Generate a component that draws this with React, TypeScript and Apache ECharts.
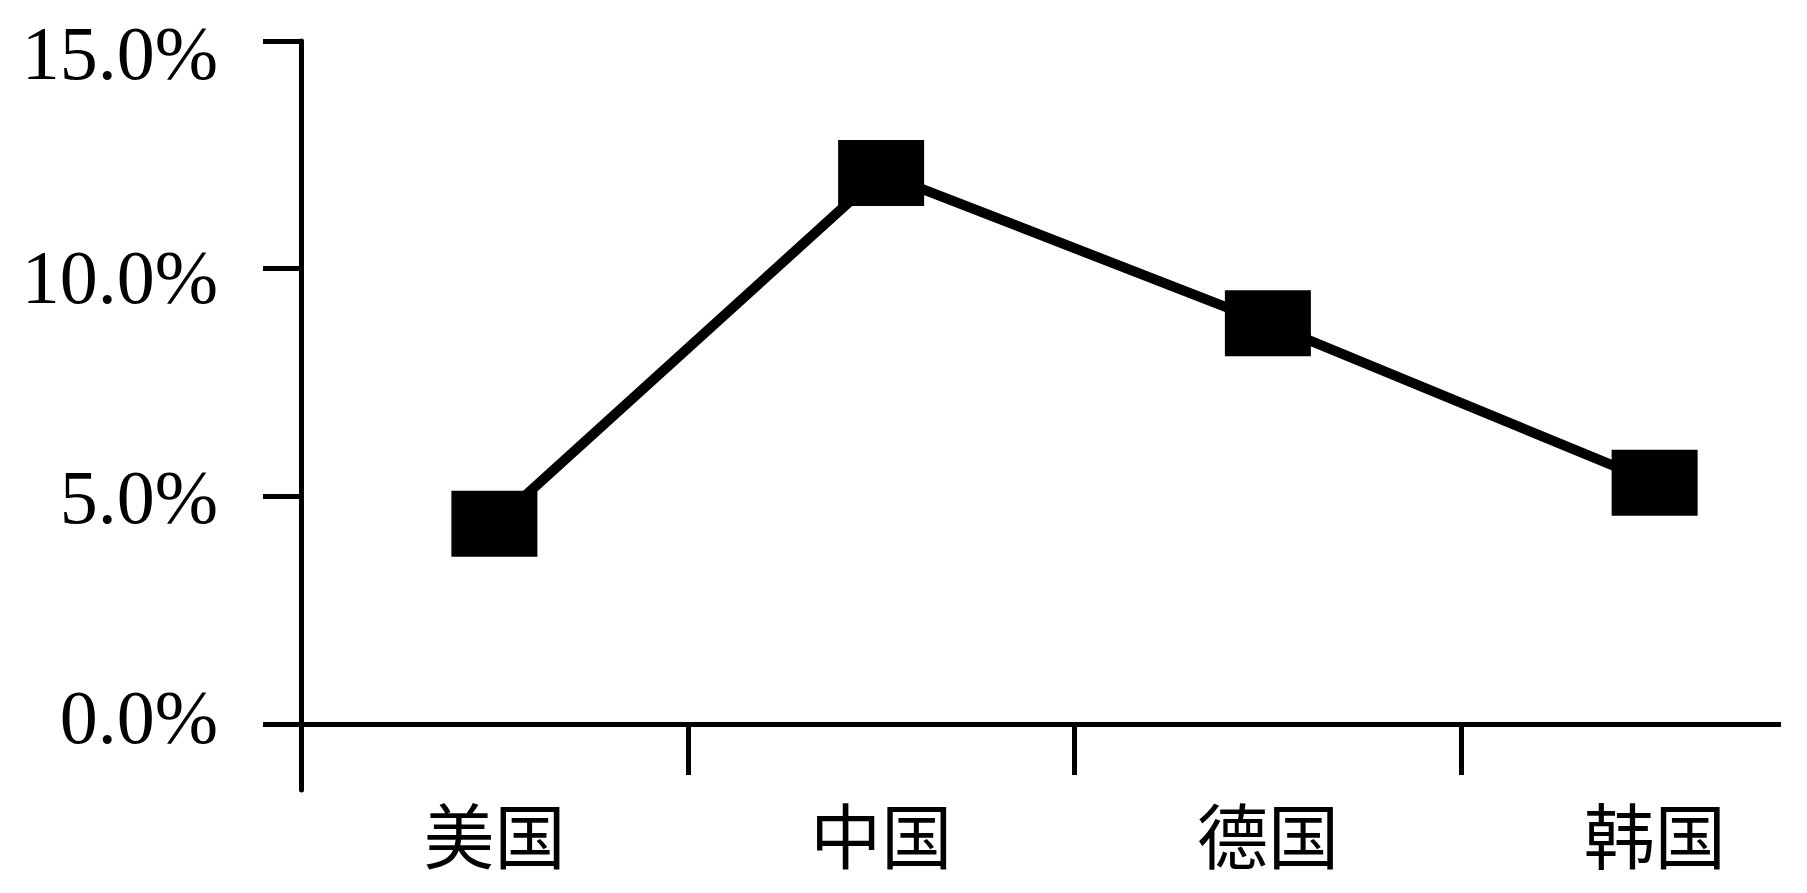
import React, { useEffect, useRef } from 'react';
import * as echarts from 'echarts';

const countries = ['美国', '中国', '德国', '韩国'];
const shares = [4.4, 12.1, 8.8, 5.3];
const yTicks = [0, 5, 10, 15];

const labelFont = {
  fontSize: 76,
  fontFamily: '"Liberation Serif", serif',
  color: '#000'
};

const App: React.FC = () => {
  const chartRef = useRef<HTMLDivElement>(null);

  useEffect(() => {
    if (!chartRef.current) return;
    const chart = echarts.init(chartRef.current, null, { renderer: 'svg' });

    const option: echarts.EChartsOption = {
      animation: false,
      backgroundColor: '#fff',
      grid: {
        left: 293,
        top: 33,
        width: 1547,
        height: 749,
        containLabel: false,
        outerBoundsMode: 'none'
      } as any,
      xAxis: {
        type: 'category',
        data: countries,
        boundaryGap: true,
        axisLine: { show: true, onZero: true, lineStyle: { color: '#000', width: 5 } },
        axisTick: { show: true, length: 51, lineStyle: { color: '#000', width: 5 } },
        axisLabel: {
          margin: 6,
          color: '#000',
          fontSize: 71,
          fontFamily: '"Noto Sans CJK SC", sans-serif'
        },
        splitLine: { show: false }
      },
      yAxis: {
        type: 'value',
        min: -1.45,
        max: 15,
        axisLine: { show: true, lineStyle: { color: '#000', width: 5 } },
        axisTick: {
          show: true,
          length: 38,
          customValues: yTicks,
          lineStyle: { color: '#000', width: 5 }
        },
        axisLabel: {
          margin: 83,
          ...labelFont,
          customValues: yTicks,
          // the scanned labels sit a little off their ticks, more so at the top
          formatter: (v: number) => `{t${v}|${v.toFixed(1)}%}`,
          rich: {
            t15: { ...labelFont, padding: [24, 0, 0, 0] },
            t10: { ...labelFont, padding: [17, 0, 0, 0] },
            t5: { ...labelFont, padding: [1, 0, 0, 0] },
            t0: { ...labelFont, padding: [0, 0, 14, 0] }
          }
        },
        splitLine: { show: false }
      },
      series: [
        {
          type: 'line',
          data: shares,
          symbol: 'rect',
          symbolSize: [86, 66],
          clip: false,
          itemStyle: { color: '#000' },
          lineStyle: { color: '#000', width: 10 }
        }
      ]
    };

    chart.setOption(option);
    return () => {
      chart.dispose();
    };
  }, []);

  return <div ref={chartRef} style={{ width: '1773px', height: '877px' }} />;
};

export default App;
